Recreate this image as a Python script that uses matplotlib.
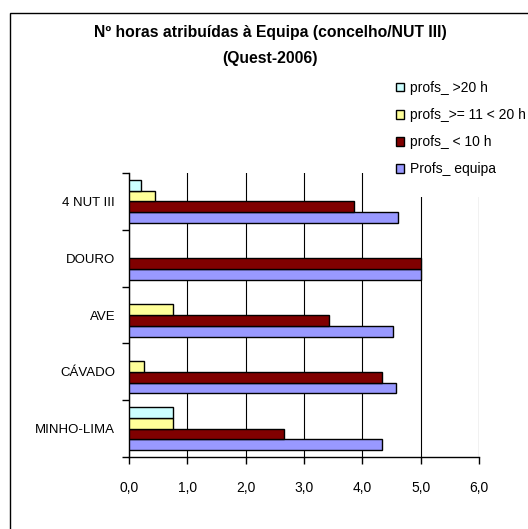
import matplotlib.pyplot as plt
from matplotlib.patches import Rectangle, Patch

plt.rcParams['font.family'] = ['Liberation Sans', 'DejaVu Sans']

# categories bottom -> top
categorias = ['MINHO-LIMA', 'CÁVADO', 'AVE', 'DOURO', '4 NUT III']
profs_equipa = [4.34, 4.58, 4.52, 5.0, 4.61]
profs_menos10 = [2.66, 4.34, 3.42, 5.0, 3.86]
profs_11_20 = [0.75, 0.25, 0.76, 0.0, 0.44]
profs_mais20 = [0.75, 0.0, 0.0, 0.0, 0.2]

series = [
    ('Profs_ equipa', profs_equipa, '#9999FF'),
    ('profs_ < 10 h', profs_menos10, '#800000'),
    ('profs_>= 11 < 20 h', profs_11_20, '#FFFF99'),
    ('profs_ >20 h', profs_mais20, '#CCFFFF'),
]
xticks = [0, 1, 2, 3, 4, 5, 6]
xlabels = ['0,0', '1,0', '2,0', '3,0', '4,0', '5,0', '6,0']

W, H = 528, 529
fig = plt.figure(figsize=(W / 100, H / 100), dpi=100)

# outer chart frame
fig.patches.append(Rectangle((10 / W, -0.05), 1.2, 1 - 13 / H + 0.05,
                             transform=fig.transFigure, fill=False,
                             edgecolor='black', lw=1.0))

ax = fig.add_axes([129 / W, 1 - 457 / H, 350 / W, 284 / H])

h = 0.19
offs = [-1.5 * h, -0.5 * h, 0.5 * h, 1.5 * h]
ypos = list(range(len(categorias)))
handles = []
for (lab, vals, col), off in zip(series, offs):
    edges = ['black' if v > 0 else 'none' for v in vals]
    ax.barh([y + off for y in ypos], vals, height=h, color=col,
            edgecolor=edges, lw=1.0, zorder=3)
    handles.append(Patch(facecolor=col, edgecolor='black', lw=1.0, label=lab))

ax.set_xlim(0, 6)
ax.set_ylim(-0.5, len(categorias) - 0.5)
ax.set_xticks(xticks)
ax.set_xticklabels(xlabels, fontsize=10)
ax.set_yticks(ypos)
ax.set_yticklabels(categorias, fontsize=9.5)
ax.set_yticks([y - 0.5 for y in range(len(categorias) + 1)], minor=True)
ax.tick_params(axis='y', which='major', length=0, pad=10)
ax.tick_params(axis='y', which='minor', length=5, width=1, direction='out')
ax.tick_params(axis='x', length=5, width=1, direction='out', pad=12)
ax.grid(axis='x', color='black', lw=0.8, zorder=0)
for s in ['top', 'right']:
    ax.spines[s].set_visible(False)
for s in ['left', 'bottom']:
    ax.spines[s].set_linewidth(1.0)

fig.text(270 / W, 1 - 33 / H, 'Nº horas atribuídas à Equipa (concelho/NUT III)',
         ha='center', va='center', fontsize=11.3, fontweight='bold')
fig.text(270 / W, 1 - 58 / H, '(Quest-2006)',
         ha='center', va='center', fontsize=11.3, fontweight='bold')

leg = fig.legend(handles=handles[::-1], loc='upper left',
                 bbox_to_anchor=(375 / W, 1 - 60 / H), fontsize=10,
                 frameon=True, handlelength=0.6, handleheight=0.6,
                 handletextpad=0.4, labelspacing=0.95, borderpad=1.5,
                 borderaxespad=0)
leg.get_frame().set_edgecolor('none')
leg.get_frame().set_facecolor('white')
leg.get_frame().set_alpha(1)
leg.set_zorder(5)

fig.savefig('out.png', dpi=100)
